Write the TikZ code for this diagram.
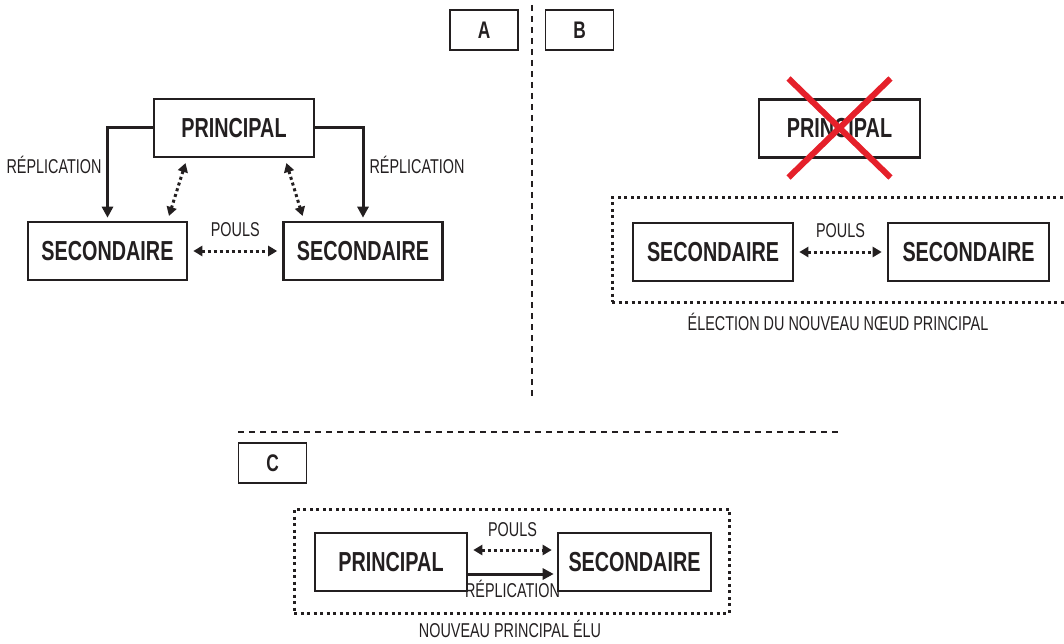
\documentclass[tikz,border=0pt]{standalone}
\usepackage{fontspec}
\setmainfont{Liberation Sans}[FakeStretch=0.72]
\usetikzlibrary{arrows.meta}
\definecolor{ink}{HTML}{231F20}
\definecolor{crossred}{HTML}{E5202A}

\begin{document}
\begin{tikzpicture}[x=1pt, y=-1pt, every node/.style={text=ink, inner sep=0pt},
	>={Triangle[length=11pt,width=11pt]},
	nodebox/.style={draw=ink, line width=2.6pt, minimum height=58pt, font=\fontsize{27.5}{27.5}\selectfont\bfseries},
	tagbox/.style={draw=ink, line width=1.4pt, minimum width=68pt, minimum height=40pt, font=\fontsize{24}{24}\selectfont\bfseries},
	lbl/.style={font=\fontsize{20}{20}\selectfont},
	repl/.style={draw=ink, line width=3pt, ->, shorten >=3pt},
	pulse/.style={draw=ink, line width=3pt, dash pattern=on 3pt off 3pt, <->, >={Triangle[length=9pt,width=10pt]}, shorten <=5pt, shorten >=5pt},
	group/.style={draw=ink, line width=3pt, dash pattern=on 3pt off 3.5pt},
	sep/.style={draw=ink, line width=2pt, dash pattern=on 6pt off 5pt}]
	\useasboundingbox (0,0) rectangle (1064,644);
	% separators and panel tags
	\draw[sep] (532,5) -- (532,400);
	\draw[sep] (238,432) -- (842,432);
	\node[tagbox] (tA) at (484,30) {A};
	\node[tagbox] (tB) at (579.5,30) {B};
	\node[tagbox] (tC) at (272.5,463) {C};
	% A
	\node[nodebox, minimum width=160pt] (pA) at (234,128) {PRINCIPAL};
	\node[nodebox, minimum width=159pt] (sA1) at (107.5,251) {SECONDAIRE};
	\node[nodebox, minimum width=159pt] (sA2) at (363,251) {SECONDAIRE};
	\draw[repl] (pA.west) -| (sA1.north);
	\draw[repl] (pA.east) -| (sA2.north);
	\node[lbl] (rA1) at (54,165) {RÉPLICATION};
	\node[lbl] (rA2) at (417,165) {RÉPLICATION};
	\draw[pulse] ([xshift=-47pt]pA.south) -- ([xshift=60pt]sA1.north);
	\draw[pulse] ([xshift=51pt]pA.south) -- ([xshift=-59pt]sA2.north);
	\draw[pulse] (sA1.east) -- node[lbl, above=13pt] (poA) {POULS} (sA2.west);
	% B
	\node[nodebox, minimum width=161pt] (pB) at (839.5,128.5) {PRINCIPAL};
	\draw[crossred, line width=6pt] ([shift={(-51,-50)}]pB.center) -- ([shift={(51,49)}]pB.center);
	\draw[crossred, line width=6pt] ([shift={(51,-50)}]pB.center) -- ([shift={(-51,49)}]pB.center);
	\node[group, minimum width=456pt, minimum height=104pt] (gB) at (840,250) {};
	\node[nodebox, minimum width=160pt] (sB1) at (713,252) {SECONDAIRE};
	\node[nodebox, minimum width=161pt] (sB2) at (968.5,252) {SECONDAIRE};
	\draw[pulse] (sB1.east) -- node[lbl, above=13pt] (poB) {POULS} (sB2.west);
	\node[lbl] (eB) at (838,322) {ÉLECTION DU NOUVEAU NŒUD PRINCIPAL};
	% C
	\node[group, minimum width=435pt, minimum height=104pt] (gC) at (511.5,561) {};
	\node[nodebox, minimum width=152pt] (pC) at (391,562) {PRINCIPAL};
	\node[nodebox, minimum width=153pt] (sC) at (634.5,562) {SECONDAIRE};
	\draw[pulse] ([yshift=12pt]pC.east) -- node[lbl, above=12pt] (poC) {POULS} ([yshift=12pt]sC.west);
	\draw[repl] ([yshift=-12pt]pC.east) -- node[lbl, below=5pt] (rC) {RÉPLICATION} ([yshift=-12pt]sC.west);
	\node[lbl] (eC) at (510,629) {NOUVEAU PRINCIPAL ÉLU};
\end{tikzpicture}
\end{document}
